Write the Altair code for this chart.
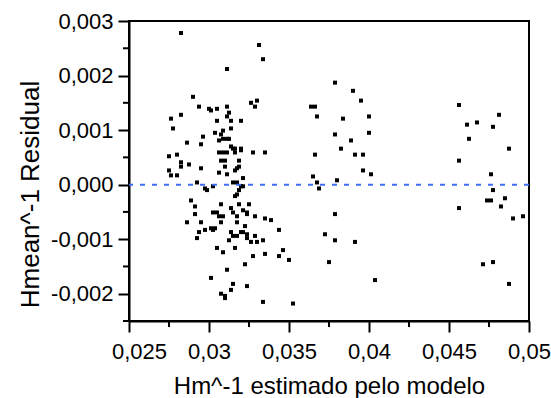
import altair as alt
import pandas as pd

# Predicted Hm^-1 (x) and residual Hmean^-1 (y)
hm_pred = [
    0.02825, 0.031125, 0.0290, 0.029375, 0.0300, 0.030125, 0.0305, 0.031125, 0.03125, 0.031125,
    0.027625, 0.02825, 0.0305, 0.031375, 0.02775, 0.031375, 0.030375, 0.030875, 0.03075, 0.029625,
    0.030875, 0.031125, 0.03125, 0.030625, 0.028625, 0.0295, 0.031375, 0.0315, 0.031625, 0.030625,
    0.030875, 0.031125, 0.031625, 0.0275, 0.0280, 0.03075, 0.0310, 0.02825, 0.02825, 0.02875,
    0.0310, 0.03175, 0.031625, 0.0295, 0.0275, 0.030625, 0.031125, 0.027625, 0.0280, 0.02925,
    0.0315, 0.03175,
    0.02975, 0.029875, 0.03025, 0.03175, 0.031625, 0.028875, 0.029125, 0.03075, 0.031375, 0.0315,
    0.03025, 0.0305, 0.029125, 0.030625, 0.030875, 0.03175, 0.028625, 0.0295, 0.03075, 0.03175,
    0.030125, 0.03025, 0.030375, 0.02975, 0.029375, 0.031375, 0.0315, 0.03175, 0.02925, 0.03125,
    0.0305, 0.031625, 0.030875, 0.031125, 0.030125, 0.0315, 0.031375, 0.03075, 0.0310, 0.0310,
    0.033125, 0.033375, 0.037875, 0.039, 0.032625, 0.0330, 0.032875, 0.036375, 0.036625, 0.03675,
    0.038375, 0.0320, 0.037875, 0.038875, 0.03825, 0.036625, 0.039125, 0.0320, 0.0320, 0.03275,
    0.0335, 0.031875, 0.031875, 0.032125, 0.0365, 0.03675, 0.038, 0.036875, 0.0320, 0.032125,
    0.031875, 0.0325, 0.031875, 0.032125, 0.032375, 0.032375, 0.032875, 0.0335, 0.033875, 0.037875,
    0.03225, 0.034375, 0.0320, 0.032125, 0.032375, 0.032375, 0.032875, 0.032625, 0.0330, 0.033375,
    0.03725, 0.037875, 0.039125, 0.034625, 0.03275, 0.0335, 0.034375, 0.035, 0.0375, 0.03225,
    0.032375, 0.033375, 0.03525,
    0.0395, 0.04, 0.04, 0.039625, 0.039625, 0.040125, 0.040375,
    0.045625, 0.048125, 0.046125, 0.04675, 0.04775, 0.04625, 0.04875, 0.045625, 0.047625, 0.04775,
    0.047375, 0.047625, 0.0485, 0.04825, 0.045625, 0.049, 0.049625, 0.047125, 0.04775, 0.04875,
]
residual = [
    0.00278, 0.00212, 0.00161, 0.00143, 0.00139, 0.00136, 0.00139, 0.00143, 0.00132, 0.00125,
    0.00121, 0.00128, 0.00117, 0.00117, 0.00103, 0.00103, 0.00095, 0.00099, 0.00092, 0.00088,
    0.00084, 0.00084, 0.00084, 0.00081, 0.00077, 0.00074, 0.00070, 0.00066, 0.00066, 0.00059,
    0.00059, 0.00059, 0.00059, 0.00052, 0.00055, 0.00044, 0.00044, 0.00041, 0.00033, 0.00037,
    0.00033, 0.00030, 0.00026, 0.00030, 0.00026, 0.00022, 0.00019, 0.00017, 0.00017, 0.00004,
    0.00004, 0.00004,
    -0.00007, -0.00010, -0.00003, -0.00018, -0.00021, -0.00029, -0.00040, -0.00036, -0.00043, -0.00051,
    -0.00051, -0.00051, -0.00054, -0.00058, -0.00058, -0.00058, -0.00069, -0.00069, -0.00069, -0.00069,
    -0.00080, -0.00083, -0.00080, -0.00083, -0.00087, -0.00087, -0.00094, -0.00094, -0.00098, -0.00102,
    -0.00116, -0.00116, -0.00124, -0.00156, -0.00171, -0.00182, -0.00193, -0.00200, -0.00204, -0.00208,
    0.00256, 0.00230, 0.00187, 0.00172, 0.00150, 0.00154, 0.00143, 0.00143, 0.00143, 0.00125,
    0.00121, 0.00117, 0.00092, 0.00081, 0.00066, 0.00055, 0.00055, 0.00066, 0.00063, 0.00059,
    0.00059, 0.00044, 0.00033, 0.00012, 0.00015, 0.00004, 0.00008, -0.00007, -0.00003, -0.00003,
    -0.00010, -0.00036, -0.00036, -0.00047, -0.00051, -0.00054, -0.00058, -0.00062, -0.00065, -0.00054,
    -0.00076, -0.00083, -0.00087, -0.00087, -0.00091, -0.00098, -0.00094, -0.00105, -0.00105, -0.00102,
    -0.00091, -0.00102, -0.00105, -0.00120, -0.00131, -0.00127, -0.00131, -0.00138, -0.00142, -0.00146,
    -0.00186, -0.00215, -0.00218,
    0.00154, 0.00125, 0.00095, 0.00055, 0.00026, 0.00019, -0.00175,
    0.00146, 0.00128, 0.00110, 0.00114, 0.00106, 0.00084, 0.00066, 0.00044, 0.00019, -0.00010,
    -0.00029, -0.00029, -0.00025, -0.00040, -0.00043, -0.00062, -0.00058, -0.00146, -0.00142, -0.00182,
]

x_major = [0.025, 0.03, 0.035, 0.04, 0.045, 0.05]
x_minor = [0.0275, 0.0325, 0.0375, 0.0425, 0.0475]
y_major = [-0.002, -0.001, 0.0, 0.001, 0.002, 0.003]
y_minor = [-0.0025, -0.0015, -0.0005, 0.0005, 0.0015, 0.0025]
x_title = "Hm^-1 estimado pelo modelo"
y_title = "Hmean^-1 Residual"

df = pd.DataFrame({"x": hm_pred, "y": residual})
zero_df = pd.DataFrame({"y": [0.0]})
xminor_df = pd.DataFrame({"x": x_minor})
yminor_df = pd.DataFrame({"y": y_minor})

FONT = "Liberation Sans"

x_scale = alt.Scale(domain=[0.025, 0.05], nice=False, zero=False)
y_scale = alt.Scale(domain=[-0.0025, 0.003], nice=False, zero=False)

x_axis = alt.Axis(
    title=x_title, values=x_major, grid=False, format="~g",
    tickSize=11,
    labelOffset={"condition": {"test": "datum.value < 0.0251", "value": 10}, "value": 0},
    tickColor="black", tickWidth=2, domainColor="black", domainWidth=2,
    labelFont=FONT, labelFontSize=22, labelColor="black", labelPadding=9,
    labelOverlap=False, labelFlush=False,
    titleFont=FONT, titleFontSize=24, titleFontWeight="normal", titleColor="black",
    titleBaseline="alphabetic", titleY=72,
)
y_axis = alt.Axis(
    title=y_title, values=y_major, grid=False, format=".3f",
    tickSize=11,
    tickColor="black", tickWidth=2, domainColor="black", domainWidth=2,
    labelFont=FONT, labelFontSize=22, labelColor="black", labelPadding=5,
    labelOverlap=False, labelFlush=False,
    titleFont=FONT, titleFontSize=26, titleFontWeight="normal", titleColor="black",
    titleBaseline="alphabetic", titleX=-91, titleY=173,
)

X = alt.X("x:Q", scale=x_scale, axis=x_axis, title=x_title)
Y = alt.Y("y:Q", scale=y_scale, axis=y_axis, title=y_title)

points = alt.Chart(df).mark_square(size=16, color="black", opacity=1).encode(x=X, y=Y)

zero_line = alt.Chart(zero_df).mark_rule(
    color="#3d6ff0", strokeWidth=2, strokeDash=[5, 7]
).encode(y=Y)

y_minor_ticks = alt.Chart(yminor_df).mark_rule(color="black", strokeWidth=2).encode(
    y=Y, x=alt.value(-6), x2=alt.value(0),
)
x_minor_ticks = alt.Chart(xminor_df).mark_rule(color="black", strokeWidth=2).encode(
    x=X, y=alt.value(300), y2=alt.value(306),
)

chart = alt.layer(points, zero_line, y_minor_ticks, x_minor_ticks).properties(
    width=400, height=300,
    autosize=alt.AutoSizeParams(type="none"),
    padding={"left": 129, "top": 21, "right": 22, "bottom": 77},
).configure_view(stroke="black", strokeWidth=2)

locale = {"decimal": ",", "thousands": ".", "grouping": [3], "currency": ["", ""], "minus": "-"}
chart.save("out.html", embed_options={"renderer": "svg", "actions": False, "formatLocale": locale})
